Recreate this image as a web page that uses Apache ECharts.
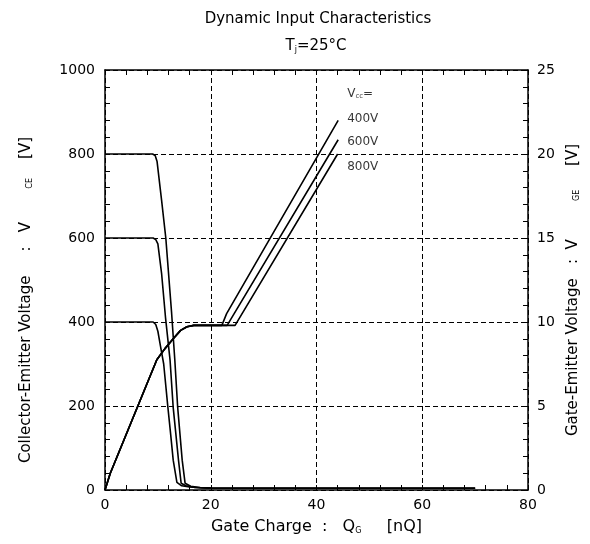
<!DOCTYPE html>
<html><head><meta charset="utf-8">
<script src="https://cdn.jsdelivr.net/npm/echarts@6/dist/echarts.min.js"></script>
<style>html,body{margin:0;padding:0;background:#fff}#c{width:590px;height:544px}</style>
</head><body><div id="c"></div>
<script>
// ---- data ----
const gateChargeTicks = [0, 20, 40, 60, 80];          // nQ
const vceTicks = [0, 200, 400, 600, 800, 1000];       // V (left)
const vgeTicks = [0, 5, 10, 15, 20, 25];              // V (right)

// Collector-emitter voltage vs gate charge [Qg, Vce]
const vce400 = [[0,400],[9.1,400],[9.6,394],[10.0,378],[10.5,342],[11.1,300],[11.9,196],[12.4,135],[12.9,71],[13.6,18],[14.5,10],[16,7],[18,5.5],[20,4.5],[70,4]];
const vce600 = [[0,600],[9.1,600],[9.6,596],[10.0,586],[10.7,516],[11.45,410],[12.3,310],[12.9,196],[13.9,71],[14.4,16],[15.3,10],[17,6],[20,4.5],[70,4]];
const vce800 = [[0,800],[9.0,800],[9.5,796],[9.85,782],[10.7,690],[11.5,600],[12.6,421],[13.2,310],[13.75,196],[14.6,71],[15.15,16],[16.2,9],[18,6],[20,4.5],[70,4]];

// Gate-emitter voltage vs gate charge [Qg, Vge]
const vgeShared = [[0,0],[1,1.0],[9.8,7.75],[11.3,8.4],[12.9,9.0],[14.3,9.5],[15.5,9.72],[16.8,9.8]];
const vgeRise400 = [[22.1,9.8],[23.0,10.5],[44.1,22.0]];
const vgeRise600 = [[23.1,9.8],[44.1,20.85]];
const vgeRise800 = [[24.6,9.8],[44.0,20.0]];

// Curve annotations [Qg, Vce]
const noteTexts = ['V{sub|cc}=', '400V', '600V', '800V'];
const noteQ = [45.8, 45.8, 45.8, 45.8];
const noteV = [944, 883, 829, 770];

// ---- chart ----
const FONT = 'DejaVu Sans';
const BLACK = '#000';
const dash = {color: BLACK, width: 1, type: [5, 3]};

function lineSeries(name, data, yIdx) {
  return {
    name, type: 'line', data, xAxisIndex: 0, yAxisIndex: yIdx,
    showSymbol: false, symbol: 'none', silent: true, animation: false,
    lineStyle: {color: BLACK, width: 1.6}, z: 5
  };
}

function axisCommon() {
  return {
    type: 'value',
    axisLine: {show: true, onZero: false, lineStyle: {color: BLACK, width: 1.5}},
    axisTick: {show: true, inside: true, length: 5, lineStyle: {color: BLACK, width: 1}},
    minorTick: {show: true, splitNumber: 5, length: 5, lineStyle: {color: BLACK, width: 1}},
    axisLabel: {color: BLACK, fontFamily: FONT, fontSize: 14},
  };
}

const plain = v => String(v);
const subRich = {sub: {fontSize: 8, fontFamily: FONT, color: BLACK, verticalAlign: 'bottom', padding: [8, 0, 0, 0]}};

const chart = echarts.init(document.getElementById('c'), null, {renderer: 'canvas'});
chart.setOption({
  backgroundColor: '#fff',
  animation: false,
  title: [
    {text: 'Dynamic Input Characteristics', left: 313, top: 7, textAlign: 'center',
     textStyle: {fontSize: 15, fontWeight: 'normal', fontFamily: FONT, color: BLACK}},
    {text: 'T{sub|j}=25°C', left: 311, top: 34, textAlign: 'center',
     textStyle: {fontSize: 15, fontWeight: 'normal', fontFamily: FONT, color: BLACK,
                 rich: {sub: {fontSize: 8, fontFamily: FONT, color: BLACK, verticalAlign: 'bottom', padding: [6,0,0,0]}}}}
  ],
  grid: {left: 105, right: 62, top: 70, bottom: 54, containLabel: false},
  xAxis: [
    Object.assign(axisCommon(), {
      position: 'bottom', min: gateChargeTicks[0], max: gateChargeTicks[gateChargeTicks.length-1],
      interval: gateChargeTicks[1] - gateChargeTicks[0],
      splitLine: {show: true, lineStyle: dash},
      axisLabel: {color: BLACK, fontFamily: FONT, fontSize: 14, margin: 8, formatter: plain},
      name: 'Gate Charge  :   Q{sub|G}     [nQ]', nameLocation: 'middle', nameGap: 29,
      nameTextStyle: {fontSize: 16, fontFamily: FONT, color: BLACK, rich: subRich}
    }),
    Object.assign(axisCommon(), {
      position: 'top', min: gateChargeTicks[0], max: gateChargeTicks[gateChargeTicks.length-1],
      interval: gateChargeTicks[1] - gateChargeTicks[0],
      splitLine: {show: false}, axisLabel: {show: false}
    })
  ],
  yAxis: [
    Object.assign(axisCommon(), {
      position: 'left', min: vceTicks[0], max: vceTicks[vceTicks.length-1],
      interval: vceTicks[1] - vceTicks[0],
      splitLine: {show: true, lineStyle: dash},
      axisLabel: {color: BLACK, fontFamily: FONT, fontSize: 14, margin: 10, formatter: plain},
      name: 'Collector-Emitter Voltage     :   V       {sub|CE}    [V]', nameLocation: 'middle', nameGap: 71, nameRotate: 90,
      nameTextStyle: {fontSize: 15, fontFamily: FONT, color: BLACK, rich: subRich, padding: [0, 40, 0, 0]}
    }),
    Object.assign(axisCommon(), {
      position: 'right', min: vgeTicks[0], max: vgeTicks[vgeTicks.length-1],
      interval: vgeTicks[1] - vgeTicks[0],
      splitLine: {show: false},
      axisLabel: {color: BLACK, fontFamily: FONT, fontSize: 14, margin: 9, formatter: plain},
      name: 'Gate-Emitter Voltage   :  V        {sub|GE}     [V]', nameLocation: 'middle', nameGap: 29, nameRotate: 90,
      nameTextStyle: {fontSize: 15, fontFamily: FONT, color: BLACK, rich: subRich, padding: [0, 20, 0, 0]}
    })
  ],
  series: [
    lineSeries('VCE 400V', vce400, 0),
    lineSeries('VCE 600V', vce600, 0),
    lineSeries('VCE 800V', vce800, 0),
    lineSeries('VGE 400V', vgeShared.concat(vgeRise400), 1),
    lineSeries('VGE 600V', vgeShared.concat(vgeRise600), 1),
    lineSeries('VGE 800V', vgeShared.concat(vgeRise800), 1),
    {
      name: 'notes', type: 'scatter', xAxisIndex: 0, yAxisIndex: 0, silent: true,
      symbolSize: 0, animation: false,
      data: noteTexts.map((t, i) => ({value: [noteQ[i], noteV[i]], name: t})),
      label: {show: true, position: 'right', distance: 0, formatter: p => p.name,
              fontSize: 12, fontFamily: FONT, color: BLACK, align: 'left', verticalAlign: 'middle',
              rich: {sub: {fontSize: 7, fontFamily: FONT, color: BLACK, verticalAlign: 'bottom', padding: [5,0,0,0]}}}
    }
  ]
});
</script></body></html>
